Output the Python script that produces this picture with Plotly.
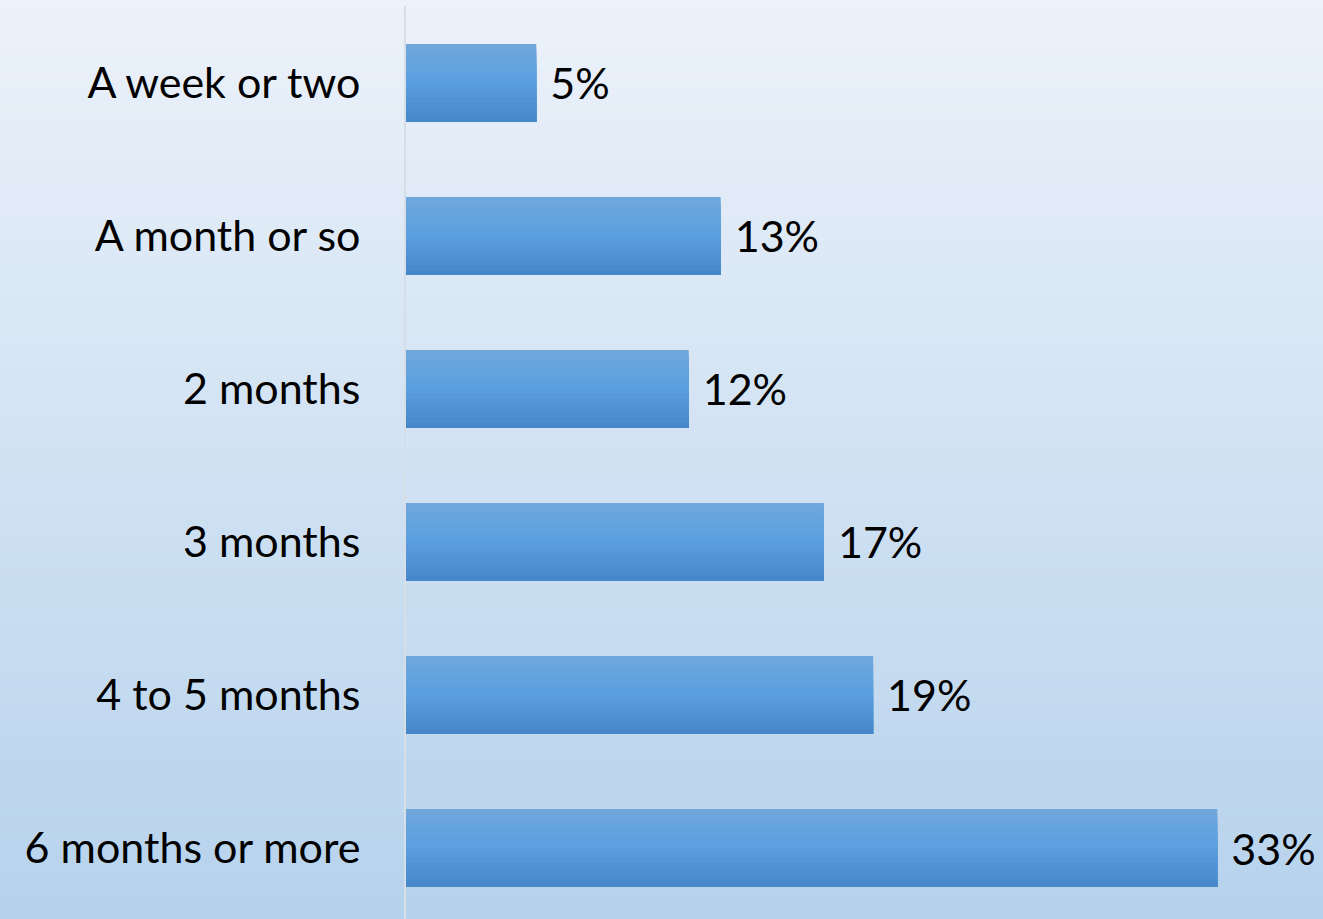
import plotly.graph_objects as go

categories = ["A week or two", "A month or so", "2 months", "3 months", "4 to 5 months", "6 months or more"]
values = [5.3, 12.8, 11.5, 17.0, 19.0, 33.0]
value_labels = ["5%", "13%", "12%", "17%", "19%", "33%"]

W, H = 1323, 919
ML, MT, MB, MR = 406, 6, 0, 0
FONT = "Lato, Open Sans, sans-serif"

def lerp(c1, c2, t):
    return "rgb(%d,%d,%d)" % tuple(round(a + (b - a) * t) for a, b in zip(c1, c2))

fig = go.Figure()

# Bar gradient via overlaid slices (each slice reaches to the bar's bottom, so no seams)
bar_w = 0.51
N = 16
top_c, mid_c, bot_c = (0x70, 0xA7, 0xDC), (0x5A, 0x9F, 0xE0), (0x45, 0x86, 0xC9)
for k in range(N):
    t = (k + 0.5) / N
    col = lerp(top_c, mid_c, t / 0.5) if t < 0.5 else lerp(mid_c, bot_c, (t - 0.5) / 0.5)
    off = -bar_w / 2 + k * bar_w / N
    fig.add_trace(go.Bar(
        x=values, y=categories, orientation="h",
        width=bar_w / 2 - off, offset=off,
        marker=dict(color=col, line=dict(width=0)),
        hoverinfo="skip", showlegend=False,
    ))

# text labels
fig.add_trace(go.Bar(
    x=values, y=categories, orientation="h", width=bar_w,
    marker=dict(color="rgba(0,0,0,0)", line=dict(width=0)),
    text=[" " + s for s in value_labels], textposition="outside",
    textfont=dict(family=FONT, size=43, color="#000000"),
    cliponaxis=False, showlegend=False, hoverinfo="skip",
))

# background gradient
NB = 80
shapes = []
bg_top, bg_bot = (0xEC, 0xF2, 0xFA), (0xB6, 0xD2, 0xEC)
ph = H - MT - MB
pw = W - ML - MR
for i in range(NB):
    y0 = H * i / NB
    y1 = H * (i + 1) / NB + 1
    t = (i + 0.5) / NB
    shapes.append(dict(
        type="rect", xref="paper", yref="paper", layer="below",
        x0=-ML / pw - 0.01, x1=1 + MR / pw + 0.01,
        y0=1 - (y1 - MT) / ph, y1=1 - (y0 - MT) / ph,
        fillcolor=lerp(bg_top, bg_bot, t), line=dict(width=0),
    ))

fig.update_layout(
    width=W, height=H,
    margin=dict(l=ML, r=MR, t=MT, b=MB, pad=0),
    barmode="overlay",
    paper_bgcolor="#D0E1F3", plot_bgcolor="rgba(0,0,0,0)",
    shapes=shapes,
    xaxis=dict(range=[0, 37.3], visible=False, showgrid=False, zeroline=False),
    yaxis=dict(
        range=[5.464, -0.503], showgrid=False, zeroline=False,
        showline=True, linecolor="#D6DEE8", linewidth=2,
        ticks="", ticklabelstandoff=35,
        tickfont=dict(family=FONT, size=43, color="#000000"),
    ),
)

fig.write_html(
    "out.html",
    config={"displayModeBar": False},
    post_script="document.body.style.margin='0';document.body.style.overflow='hidden';",
)
